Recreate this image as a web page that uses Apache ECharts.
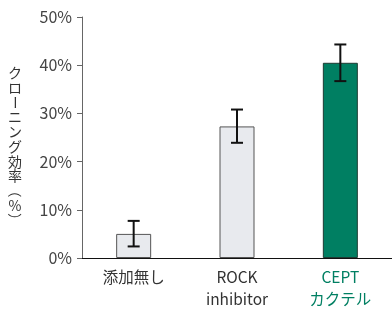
<!DOCTYPE html>
<html>
<head>
<meta charset="utf-8">
<script src="https://cdn.jsdelivr.net/npm/echarts@6/dist/echarts.min.js"></script>
<style>
  html, body { margin: 0; padding: 0; background: #fff; }
  #chart { width: 392px; height: 310px; }
</style>
</head>
<body>
<div id="chart"></div>
<script>
const categories = ["添加無し", "ROCK\ninhibitor", "CEPT\nカクテル"];
const means = [5.0, 27.3, 40.5];
const errUpper = [7.7, 30.8, 44.3];
const errLower = [2.4, 23.9, 36.7];
const yTicks = [0, 10, 20, 30, 40, 50];
const yName = "クローニング効率（%）";

const FONT = "Noto Sans CJK JP";
const GREEN = "#007f62";
const GRAY_FILL = "#e8eaee";

var chart = echarts.init(document.getElementById("chart"));

// vertical axis title, one glyph per line
var nameChars = Array.from(yName);
var nameGraphics = nameChars.map(function (ch, i) {
  var rotate = (ch === "ー" || ch === "（" || ch === "）") ? -Math.PI / 2 : 0;
  return {
    type: "text",
    x: 15,
    y: 73 + i * 14.7,
    rotation: rotate,
    style: {
      text: ch,
      font: "14px '" + FONT + "'",
      fill: "#333",
      align: "center",
      verticalAlign: "middle"
    }
  };
});

var option = {
  animation: false,
  grid: { left: 82, right: -2, top: 17, bottom: 48 },
  xAxis: {
    type: "category",
    data: categories,
    axisLine: { lineStyle: { color: "#111", width: 1 } },
    axisTick: { show: false },
    axisLabel: {
      margin: 8,
      fontFamily: FONT,
      fontSize: 15.5,
      lineHeight: 22,
      color: function (v, i) { return i === 2 ? GREEN : "#333"; }
    }
  },
  yAxis: {
    type: "value",
    min: yTicks[0],
    max: yTicks[yTicks.length - 1],
    interval: 10,
    axisLine: { show: true, lineStyle: { color: "#666", width: 1 } },
    axisTick: { show: true, length: 5, lineStyle: { color: "#666" } },
    splitLine: { show: false },
    axisLabel: {
      margin: 10,
      fontFamily: FONT,
      fontSize: 16,
      color: "#444",
      formatter: function (v) { return v + "%"; }
    }
  },
  graphic: nameGraphics,
  series: [
    {
      type: "bar",
      barWidth: 35,
      data: means.map(function (v, i) {
        return {
          value: v,
          itemStyle: i === 2
            ? { color: GREEN, borderColor: "#1e3b33", borderWidth: 1 }
            : { color: GRAY_FILL, borderColor: "#555", borderWidth: 1 }
        };
      })
    },
    {
      type: "custom",
      z: 10,
      data: categories.map(function (c, i) { return [i, errLower[i], errUpper[i]]; }),
      renderItem: function (params, api) {
        var lo = api.coord([api.value(0), api.value(1)]);
        var hi = api.coord([api.value(0), api.value(2)]);
        var half = 6;
        var st = { stroke: "#111", lineWidth: 2 };
        return {
          type: "group",
          children: [
            { type: "line", shape: { x1: hi[0], y1: hi[1], x2: lo[0], y2: lo[1] }, style: st },
            { type: "line", shape: { x1: hi[0] - half, y1: hi[1], x2: hi[0] + half, y2: hi[1] }, style: st },
            { type: "line", shape: { x1: lo[0] - half, y1: lo[1], x2: lo[0] + half, y2: lo[1] }, style: st }
          ]
        };
      }
    }
  ]
};

chart.setOption(option);
</script>
</body>
</html>
